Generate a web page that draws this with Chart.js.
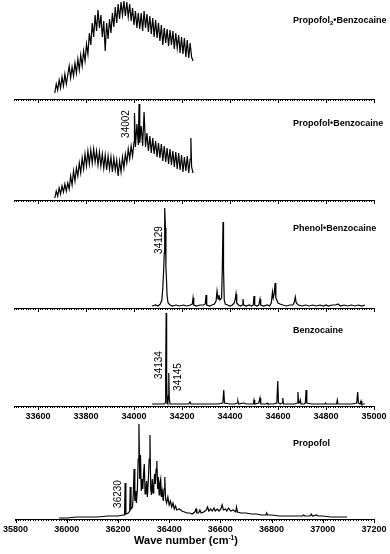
<!DOCTYPE html>
<html lang="en">
<head>
  <meta charset="UTF-8" />
  <title>Spectra</title>
  <script src="https://cdn.jsdelivr.net/npm/chart.js"></script>
  <style>
    body { margin: 0; background: #fff; width: 390px; height: 554px; position: relative; overflow: hidden;
           font-family: "Liberation Sans", Arial, sans-serif; color: #000; }
    canvas { position: absolute; left: 0; }
    .name { position: absolute; left: 293px; font-weight: bold; font-size: 9px; line-height: 10px; white-space: nowrap; }
    .name sub { font-size: 6px; vertical-align: -2px; line-height: 0; }
    .xtitle { position: absolute; left: 0; width: 372px; top: 534px; text-align: center;
              font-weight: bold; font-size: 11px; line-height: 13px; }
    .xtitle sup { font-size: 6.5px; vertical-align: 4px; line-height: 0; }
  </style>
</head>
<body>
  <canvas id="c1" width="390" height="103" style="top:0px"></canvas>
  <canvas id="c2" width="390" height="105" style="top:99px"></canvas>
  <canvas id="c3" width="390" height="112" style="top:200px"></canvas>
  <canvas id="c4" width="390" height="118" style="top:308px"></canvas>
  <canvas id="c5" width="390" height="119" style="top:420px"></canvas>

  <div class="name" style="top:15px">Propofol<sub>2</sub>•Benzocaine</div>
  <div class="name" style="top:118px">Propofol•Benzocaine</div>
  <div class="name" style="top:223px">Phenol•Benzocaine</div>
  <div class="name" style="top:325px">Benzocaine</div>
  <div class="name" style="top:438px">Propofol</div>
  <div class="xtitle">Wave number (cm<sup>-1</sup>)</div>

  <script>
    // Propofol2-Benzocaine
    const p1Wave = [33670, 33676, 33682, 33688, 33694, 33700, 33706, 33712, 33718, 33724,
      33730, 33736, 33742, 33748, 33754, 33760, 33766, 33772, 33778, 33784,
      33790, 33796, 33802, 33808, 33814, 33820, 33826, 33832, 33838, 33844,
      33850, 33856, 33862, 33868, 33874, 33880, 33886, 33892, 33898, 33904,
      33910, 33916, 33922, 33928, 33934, 33940, 33946, 33952, 33958, 33964,
      33970, 33976, 33982, 33988, 33994, 34000, 34006, 34012, 34018, 34024,
      34030, 34036, 34042, 34048, 34054, 34060, 34066, 34072, 34078, 34084,
      34090, 34096, 34102, 34108, 34114, 34120, 34126, 34132, 34138, 34144,
      34150, 34156, 34162, 34168, 34174, 34180, 34186, 34192, 34198, 34204,
      34210, 34216, 34222, 34228, 34234, 34240, 34246];
    const p1Int = [6, 15, 9, 19, 11, 22, 13, 25, 15, 24,
      33, 21, 32, 23, 36, 26, 40, 29, 44, 33,
      48, 38, 55, 45, 66, 54, 76, 62, 84, 68,
      89, 71, 84, 62, 78, 48, 76, 60, 80, 66,
      86, 72, 92, 76, 95, 80, 97, 84, 98, 83,
      97, 82, 95, 78, 91, 74, 88, 71, 86, 70,
      86, 68, 88, 71, 85, 67, 83, 65, 81, 62,
      79, 61, 76, 58, 74, 54, 71, 56, 70, 53,
      69, 54, 68, 50, 66, 51, 64, 46, 62, 45,
      61, 42, 59, 41, 56, 42, 38];

    // Propofol-Benzocaine
    const p2Wave = [33670, 33676, 33682, 33688, 33694, 33700, 33706, 33712, 33718, 33724,
      33730, 33736, 33742, 33748, 33754, 33760, 33766, 33772, 33778, 33784,
      33790, 33796, 33802, 33808, 33814, 33820, 33826, 33832, 33838, 33844,
      33850, 33856, 33862, 33868, 33874, 33880, 33886, 33892, 33898, 33904,
      33910, 33916, 33922, 33928, 33934, 33940, 33946, 33952, 33958, 33964,
      33970, 33976, 33982, 33988, 33994, 34000, 34002, 34006, 34012, 34018,
      34021, 34024, 34030, 34036, 34042, 34048, 34054, 34060, 34066, 34072,
      34078, 34084, 34090, 34096, 34102, 34108, 34114, 34120, 34126, 34132,
      34138, 34144, 34150, 34156, 34162, 34168, 34174, 34180, 34186, 34192,
      34198, 34204, 34210, 34216, 34222, 34228, 34234, 34237, 34240, 34246];
    const p2Int = [2, 9, 4, 12, 6, 14, 8, 16, 9, 17,
      11, 24, 15, 29, 19, 32, 24, 37, 27, 42,
      31, 46, 34, 49, 36, 50, 37, 51, 38, 49,
      35, 48, 34, 46, 32, 45, 30, 44, 31, 43,
      28, 42, 30, 40, 24, 39, 28, 43, 32, 46,
      37, 51, 41, 54, 44, 58, 87, 53, 76, 55,
      96, 57, 74, 54, 88, 53, 67, 49, 64, 47,
      62, 46, 59, 43, 57, 42, 56, 39, 54, 38,
      52, 36, 51, 35, 49, 33, 48, 31, 47, 30,
      45, 28, 43, 29, 44, 27, 41, 62, 33, 27];

    // Phenol-Benzocaine
    const p3Wave = [34075, 34090, 34100, 34110, 34116, 34120, 34124, 34126, 34127, 34129,
      34131, 34133, 34135, 34138, 34142, 34150, 34160, 34175, 34190, 34205,
      34220, 34235, 34243, 34246, 34249, 34260, 34275, 34290, 34297, 34300,
      34303, 34315, 34325, 34335, 34342, 34346, 34350, 34354, 34358, 34365,
      34368, 34371, 34373, 34376, 34380, 34390, 34400, 34410, 34418, 34422,
      34425, 34428, 34435, 34444, 34451, 34454, 34457, 34468, 34480, 34490,
      34497, 34500, 34503, 34512, 34520, 34525, 34528, 34540, 34555, 34565,
      34572, 34577, 34580, 34584, 34588, 34591, 34595, 34600, 34608, 34620,
      34635, 34650, 34662, 34668, 34672, 34676, 34685, 34700, 34715, 34730,
      34745, 34760, 34775, 34790, 34800, 34810, 34825, 34840, 34850, 34860,
      34875, 34890, 34905, 34920, 34935, 34950, 34962];
    const p3Int = [2, 3, 2, 4, 8, 20, 40, 55, 72, 100,
      80, 42, 30, 12, 5, 3, 2, 3, 2, 3,
      2, 3, 4, 10, 3, 2, 3, 3, 4, 13,
      3, 2, 3, 4, 7, 17, 9, 13, 8, 10,
      40, 86, 40, 8, 4, 3, 2, 3, 5, 9,
      14, 5, 3, 2, 3, 9, 3, 2, 3, 2,
      3, 12, 3, 2, 3, 9, 3, 2, 3, 2,
      5, 16, 10, 14, 25, 10, 8, 5, 4, 3,
      2, 3, 3, 6, 11, 5, 3, 2, 3, 2,
      3, 2, 3, 2, 3, 2, 3, 3, 4, 2,
      3, 2, 3, 2, 3, 2, 3];

    // Benzocaine
    const p4Wave = [34075, 34090, 34105, 34115, 34125, 34130, 34132, 34134, 34136, 34138,
      34141, 34143, 34145, 34147, 34150, 34170, 34190, 34210, 34228, 34233,
      34237, 34260, 34290, 34320, 34350, 34370, 34374, 34377, 34400, 34420,
      34430, 34433, 34436, 34455, 34470, 34497, 34500, 34503, 34520, 34525,
      34528, 34550, 34555, 34558, 34580, 34595, 34599, 34602, 34610, 34617,
      34620, 34623, 34650, 34670, 34680, 34683, 34686, 34690, 34693, 34696,
      34710, 34714, 34717, 34720, 34740, 34770, 34795, 34798, 34801, 34820,
      34844, 34847, 34850, 34880, 34910, 34928, 34932, 34935, 34942, 34946,
      34949, 34962];
    const p4Int = [2, 2, 2, 2, 2, 3, 30, 93, 30, 3,
      2, 10, 33, 8, 2, 2, 2, 2, 2, 4,
      2, 2, 2, 2, 2, 3, 16, 3, 2, 2,
      3, 5, 2, 3, 2, 2, 6, 2, 3, 8,
      2, 2, 3, 2, 2, 3, 25, 3, 2, 3,
      8, 2, 2, 2, 3, 14, 3, 3, 6, 2,
      2, 3, 16, 3, 2, 2, 2, 3, 2, 2,
      2, 6, 2, 2, 2, 3, 14, 3, 2, 5,
      2, 2];

    // Propofol
    const p5Wave = [35970, 36000, 36040, 36080, 36120, 36160, 36200, 36220, 36226, 36228,
      36231, 36240, 36246, 36248, 36251, 36257, 36260, 36263, 36266, 36270,
      36272, 36276, 36279, 36282, 36285, 36288, 36291, 36294, 36297, 36300,
      36303, 36306, 36309, 36312, 36315, 36318, 36322, 36325, 36328, 36331,
      36334, 36337, 36340, 36343, 36346, 36349, 36352, 36355, 36358, 36361,
      36364, 36367, 36370, 36373, 36377, 36380, 36383, 36386, 36390, 36395,
      36400, 36405, 36410, 36415, 36420, 36425, 36430, 36440, 36450, 36460,
      36470, 36480, 36490, 36500, 36505, 36508, 36515, 36520, 36525, 36535,
      36545, 36550, 36555, 36562, 36568, 36575, 36580, 36588, 36595, 36602,
      36607, 36612, 36620, 36625, 36632, 36640, 36650, 36660, 36663, 36667,
      36680, 36700, 36720, 36740, 36760, 36778, 36781, 36784, 36800, 36830,
      36860, 36890, 36920, 36925, 36930, 36950, 36955, 36960, 36975, 36980,
      37000, 37030, 37060, 37095];
    const p5Int = [1, 1, 2, 2, 2, 3, 3, 4, 4, 36,
      5, 6, 8, 32, 10, 12, 25, 50, 18, 28,
      16, 30, 60, 95, 40, 64, 28, 40, 30, 45,
      55, 25, 30, 38, 22, 35, 60, 84, 30, 24,
      40, 26, 32, 45, 35, 50, 58, 30, 42, 24,
      36, 40, 22, 28, 18, 30, 42, 20, 16, 22,
      14, 18, 12, 16, 10, 13, 9, 10, 8, 7,
      6, 6, 5, 7, 10, 6, 6, 9, 6, 7,
      9, 12, 8, 10, 8, 11, 8, 10, 8, 10,
      14, 9, 10, 8, 11, 8, 9, 7, 12, 7,
      6, 6, 5, 5, 4, 4, 6, 4, 4, 3,
      3, 3, 3, 4, 3, 3, 5, 3, 4, 3,
      3, 2, 2, 2];

    const tickFont = { family: 'Liberation Sans', size: 9, weight: 'bold' };

    // longer tick marks every 200
    const majorTicks = {
      id: 'majorTicks',
      afterDraw(chart) {
        const s = chart.scales.x, ctx = chart.ctx;
        ctx.save();
        ctx.strokeStyle = '#000';
        ctx.lineWidth = 1;
        for (let v = Math.ceil(s.min / 200) * 200; v <= s.max; v += 200) {
          const px = Math.round(s.getPixelForValue(v)) + 0.5;
          ctx.beginPath();
          ctx.moveTo(px, s.top);
          ctx.lineTo(px, s.top + 4);
          ctx.stroke();
        }
        ctx.restore();
      }
    };

    // vertical peak labels
    const peakLabels = {
      id: 'peakLabels',
      afterDatasetsDraw(chart, args, opts) {
        const ctx = chart.ctx;
        (opts.items || []).forEach(it => {
          const px = chart.scales.x.getPixelForValue(it.at) + it.dx;
          const py = chart.scales.y.getPixelForValue(it.mid);
          ctx.save();
          ctx.translate(px, py);
          ctx.rotate(-Math.PI / 2);
          ctx.font = '10px "Liberation Sans", Arial, sans-serif';
          ctx.fillStyle = '#000';
          ctx.textAlign = 'center';
          ctx.textBaseline = 'middle';
          ctx.fillText(it.text, 0, 0);
          ctx.restore();
        });
      }
    };

    function makePanel(id, wave, inten, xMin, xMax, yMax, axisH, showLabels, labels) {
      new Chart(document.getElementById(id), {
        type: 'line',
        data: {
          datasets: [{
            data: wave.map((w, i) => ({ x: w, y: inten[i] })),
            borderColor: '#000',
            borderWidth: 1.2,
            pointRadius: 0,
            tension: 0,
            fill: false
          }]
        },
        options: {
          responsive: false,
          animation: false,
          devicePixelRatio: 1,
          layout: { padding: { left: 14, right: 16, top: 0, bottom: 0 } },
          plugins: {
            legend: { display: false },
            tooltip: { enabled: false },
            peakLabels: { items: labels }
          },
          scales: {
            x: {
              type: 'linear',
              min: xMin,
              max: xMax,
              afterFit: s => { s.height = axisH; },
              border: { display: true, color: '#000', width: 1 },
              grid: { drawOnChartArea: false, tickLength: 2, tickColor: '#000' },
              ticks: {
                display: showLabels,
                stepSize: 10,
                autoSkip: false,
                maxRotation: 0,
                minRotation: 0,
                padding: 3,
                color: '#000',
                font: tickFont,
                callback: v => (Math.round(v) % 200 === 0 ? String(Math.round(v)) : '')
              }
            },
            y: { display: false, min: 0, max: yMax }
          }
        },
        plugins: [majorTicks, peakLabels]
      });
    }

    makePanel('c1', p1Wave, p1Int, 33500, 35000, 99, 4, false, []);
    makePanel('c2', p2Wave, p2Int, 33500, 35000, 101, 4, false,
      [{ text: '34002', at: 34002, dx: -8.5, mid: 76 }]);
    makePanel('c3', p3Wave, p3Int, 33500, 35000, 108, 4, false,
      [{ text: '34129', at: 34129, dx: -6, mid: 68 }]);
    makePanel('c4', p4Wave, p4Int, 33500, 35000, 98, 20, true,
      [{ text: '34134', at: 34134, dx: -7, mid: 41 }, { text: '34145', at: 34145, dx: 9, mid: 29 }]);
    makePanel('c5', p5Wave, p5Int, 35800, 37200, 99, 20, true,
      [{ text: '36230', at: 36230, dx: -7.5, mid: 25 }]);
  </script>
</body>
</html>
